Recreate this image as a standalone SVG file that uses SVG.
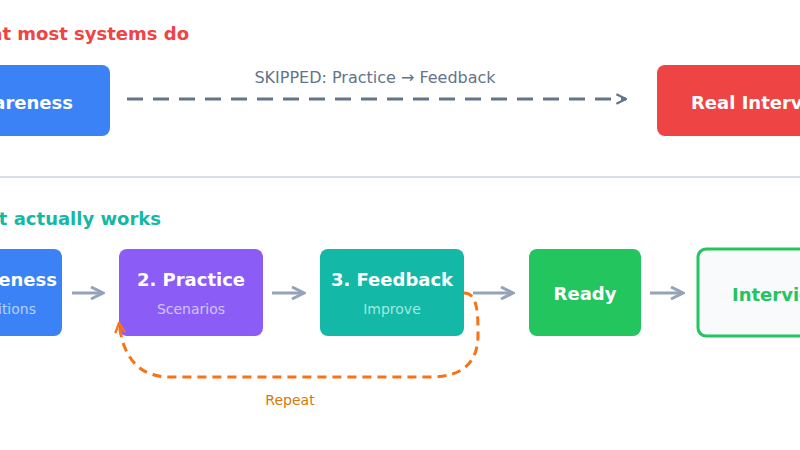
<svg xmlns="http://www.w3.org/2000/svg" width="800" height="450" viewBox="0 0 800 450">
<defs>
<style>
text{font-family:"DejaVu Sans",sans-serif}
.t{font-size:18px;font-weight:bold;fill:#fff}
.s{font-size:14px;fill:#e9e4ff;opacity:.75}
.h{font-size:18px;font-weight:bold}
.a{stroke:#94a3b8;stroke-width:3;fill:none;marker-end:url(#g)}
</style>
<marker id="g" viewBox="0 0 10 10" refX="9" refY="5" markerWidth="5" markerHeight="5" orient="auto"><path d="M1,1 L9,5 L1,9" fill="none" stroke="#94a3b8" stroke-width="2"/></marker>
<marker id="d" viewBox="0 0 10 10" refX="9" refY="5" markerWidth="4" markerHeight="4" orient="auto"><path d="M1,1 L9,5 L1,9" fill="none" stroke="#64748b" stroke-width="2"/></marker>
<marker id="o" viewBox="0 0 10 10" refX="9" refY="5" markerWidth="4" markerHeight="4" orient="auto"><path d="M1,1 L9,5 L1,9" fill="none" stroke="#f97316" stroke-width="2"/></marker>
</defs>
<rect width="800" height="450" fill="#fff"/>
<text class="h" x="189" y="40" text-anchor="end" fill="#ef4444">What most systems do</text>
<text class="h" x="161" y="225" text-anchor="end" fill="#14b8a6">What actually works</text>
<line x1="0" y1="177" x2="800" y2="177" stroke="#cbd5e1" stroke-width="1.5"/>
<g id="top-awareness"><rect x="-80" y="65" width="190" height="71" rx="8" fill="#3b82f6"/><text class="t" x="73" y="109" text-anchor="end">1. Awareness</text></g>
<g id="top-real"><rect x="657" y="65" width="200" height="71" rx="8" fill="#ef4444"/><text class="t" x="691" y="109">Real Interview</text></g>
<g id="awareness"><rect x="-90" y="249" width="152" height="87" rx="8" fill="#3b82f6"/><text class="t" x="57" y="286" text-anchor="end">1. Awareness</text><text class="s" x="36" y="314" text-anchor="end" style="fill:#dbeafe">Definitions</text></g>
<g id="practice"><rect x="119" y="249" width="144" height="87" rx="8" fill="#8b5cf6"/><text class="t" x="191" y="286" text-anchor="middle">2. Practice</text><text class="s" x="191" y="314" text-anchor="middle">Scenarios</text></g>
<g id="feedback"><rect x="320" y="249" width="144" height="87" rx="8" fill="#14b8a6"/><text class="t" x="392" y="286" text-anchor="middle">3. Feedback</text><text class="s" x="392" y="314" text-anchor="middle" style="fill:#ccfbf1">Improve</text></g>
<g id="ready"><rect x="529" y="249" width="112" height="87" rx="8" fill="#22c55e"/><text class="t" x="585" y="300" text-anchor="middle">Ready</text></g>
<g id="interview"><rect x="698" y="249" width="140" height="87" rx="8" fill="#f8fafc" stroke="#22c55e" stroke-width="3"/><text class="t" x="732" y="301" style="fill:#22c55e">Interview</text></g>
<g id="connectors">
<line x1="127" y1="99" x2="626" y2="99" stroke="#64748b" stroke-width="3" stroke-dasharray="16,10" marker-end="url(#d)"/>
<text x="375" y="83" text-anchor="middle" font-size="16" fill="#64748b">SKIPPED: Practice → Feedback</text>
<line class="a" x1="72" y1="293" x2="103" y2="293"/>
<line class="a" x1="272" y1="293" x2="304" y2="293"/>
<line class="a" x1="473" y1="293" x2="513" y2="293"/>
<line class="a" x1="650" y1="293" x2="683" y2="293"/>
<path d="M464,293 C478,293 478,315 478,335 Q478,377 430,377 L170,377 Q125,377 119,323" fill="none" stroke="#f97316" stroke-width="3" stroke-dasharray="9,6" marker-end="url(#o)"/>
<text x="290" y="405" text-anchor="middle" font-size="14" fill="#d97706">Repeat</text>
</g>
</svg>
